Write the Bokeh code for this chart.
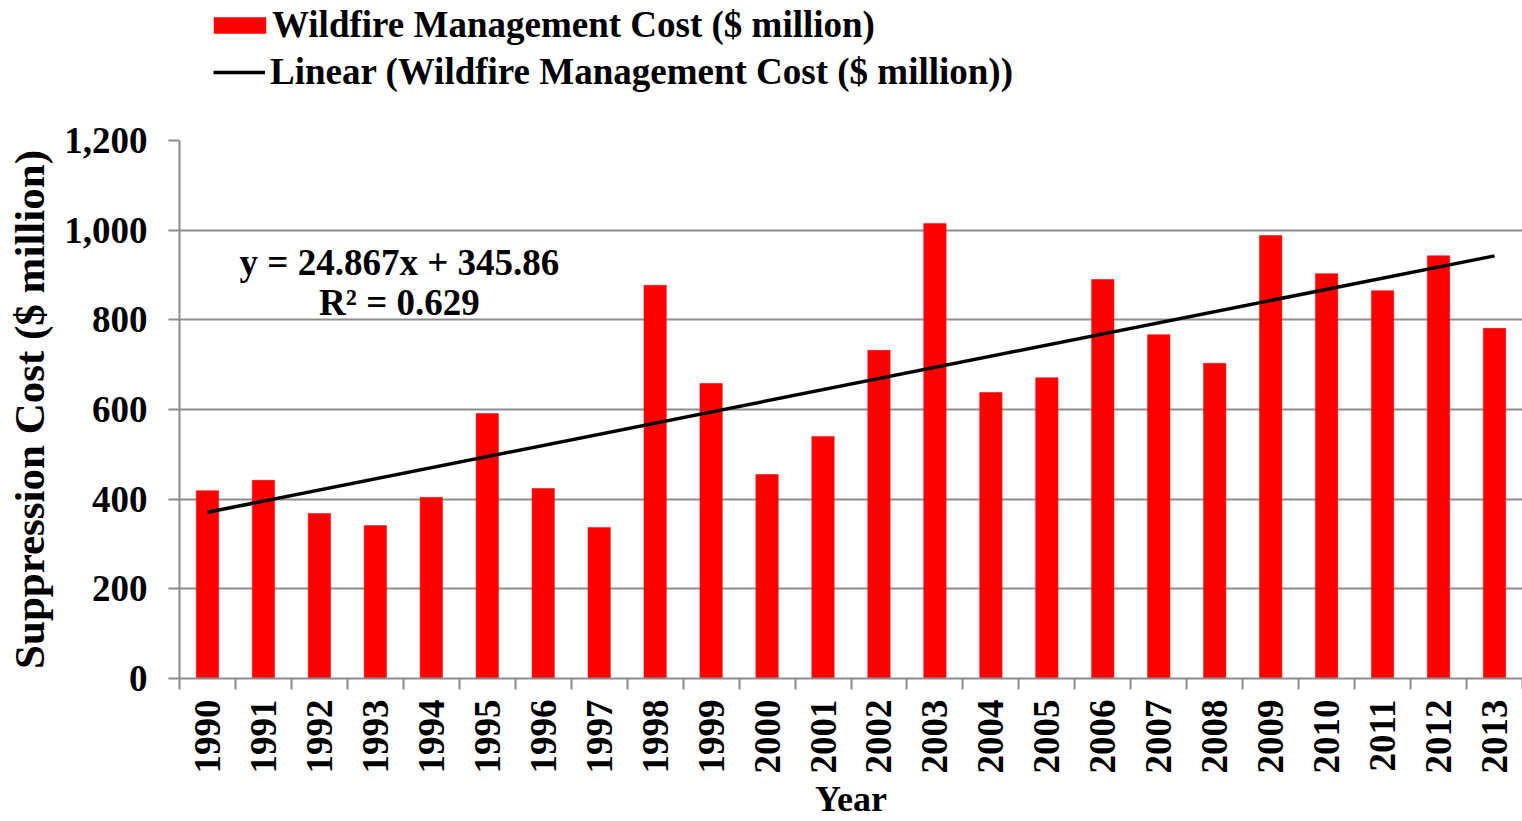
import math
from bokeh.plotting import figure
from bokeh.layouts import column
from bokeh.models import (Range1d, FixedTicker, NumeralTickFormatter, Legend,
                          LegendItem, Label, ColumnDataSource)
from bokeh.embed import file_html
from bokeh.resources import INLINE

# ---- data ----
years = list(range(1990, 2014))
cost = [419, 442, 368, 341, 404, 591, 424, 337, 877, 658, 455, 540,
        732, 1015, 638, 671, 890, 767, 703, 988, 903, 865, 943, 781]
y_ticks = [0, 200, 400, 600, 800, 1000, 1200]
trend_slope = 24.867
trend_intercept = 345.86
r_squared = 0.629
series_label = "Wildfire Management Cost ($ million)"
trend_label = "Linear (Wildfire Management Cost ($ million))"
x_title = "Year"
y_title = "Suppression Cost ($ million)"

FONT = "Liberation Serif"
GRID = "#8c8c8c"
BAR = "#ff0000"

src = ColumnDataSource(dict(year=years, cost=cost))
tx = [years[0], years[-1]]
ty = [trend_intercept + trend_slope * 1, trend_intercept + trend_slope * len(years)]

# ---------------- main chart ----------------
p = figure(width=1522, height=711, output_backend="svg", toolbar_location=None,
           x_range=Range1d(years[0] - 0.5, years[-1] + 0.5),
           y_range=Range1d(y_ticks[0], y_ticks[-1]),
           min_border_left=179, min_border_right=0,
           min_border_top=30, min_border_bottom=143)
p.outline_line_color = None
p.background_fill_color = "white"
p.xgrid.visible = False
p.ygrid.grid_line_color = GRID
p.ygrid.grid_line_width = 2

bars = p.vbar(x="year", top="cost", width=0.4, source=src,
              fill_color=BAR, line_color=BAR, line_width=0.5)
trend = p.line(tx, ty, line_color="black", line_width=3.5)

# x axis
xa = p.xaxis[0]
xa.ticker = FixedTicker(ticks=years, minor_ticks=[y - 0.5 for y in years] + [years[-1] + 0.5])
xa.formatter = NumeralTickFormatter(format="0")
xa.major_tick_out = 0
xa.major_tick_in = 0
xa.minor_tick_out = 11
xa.minor_tick_in = 0
xa.minor_tick_line_color = GRID
xa.minor_tick_line_width = 2
xa.axis_line_color = GRID
xa.axis_line_width = 2
xa.major_label_orientation = math.pi / 2
xa.major_label_standoff = 10
xa.major_label_text_font = FONT
xa.major_label_text_font_style = "bold"
xa.major_label_text_font_size = "37px"
xa.major_label_text_color = "black"
xa.axis_label = x_title
xa.axis_label_text_font = FONT
xa.axis_label_text_font_style = "bold"
xa.axis_label_text_font_size = "36px"
xa.axis_label_text_color = "black"
xa.axis_label_standoff = 2

# y axis
ya = p.yaxis[0]
ya.ticker = FixedTicker(ticks=y_ticks, minor_ticks=[])
ya.formatter = NumeralTickFormatter(format="0,0")
ya.major_tick_out = 11
ya.major_tick_in = 0
ya.major_tick_line_color = GRID
ya.major_tick_line_width = 2
ya.axis_line_color = GRID
ya.axis_line_width = 2
ya.major_label_standoff = 21
ya.major_label_text_font = FONT
ya.major_label_text_font_style = "bold"
ya.major_label_text_font_size = "37px"
ya.major_label_text_color = "black"
ya.axis_label = y_title
ya.axis_label_text_font = FONT
ya.axis_label_text_font_style = "bold"
ya.axis_label_text_font_size = "43px"
ya.axis_label_text_color = "black"
ya.axis_label_standoff = 8

# trendline equation
eq_style = dict(text_font=FONT, text_font_style="bold", text_font_size="37px",
                text_align="center", text_baseline="middle", text_color="black")
p.add_layout(Label(x=1993.43, y=928, text=f"y = {trend_slope}x + {trend_intercept}", **eq_style))
p.add_layout(Label(x=1993.43, y=839, text=f"R² = {r_squared}", **eq_style))

# ---------------- legend strip above the chart ----------------
lg = figure(width=1522, height=110, output_backend="svg", toolbar_location=None,
            x_axis_type=None, y_axis_type=None, min_border=0,
            x_range=Range1d(0, 1), y_range=Range1d(0, 1))
lg.outline_line_color = None
lg.xgrid.visible = False
lg.ygrid.visible = False
# same series, drawn outside this strip's visible range: used only for legend swatches
lg_bar = lg.vbar(x="year", top="cost", width=0.4, source=src,
                 fill_color=BAR, line_color=BAR, line_width=0.5)
lg_line = lg.line(tx, ty, line_color="black", line_width=3.5)

leg_style = dict(border_line_color=None, background_fill_alpha=0, padding=0, margin=0,
                 glyph_height=20, label_text_font=FONT, label_text_font_style="bold",
                 label_text_font_size="37px", label_text_color="black")
legend1 = Legend(items=[LegendItem(label=series_label, renderers=[lg_bar])],
                 location=(28, 64), glyph_width=65, label_standoff=0, **leg_style)
legend2 = Legend(items=[LegendItem(label=trend_label, renderers=[lg_line])],
                 location=(34, 17), glyph_width=52, label_standoff=5, **leg_style)
lg.add_layout(legend1)
lg.add_layout(legend2)

layout = column(lg, p, spacing=0)
open("out.html", "w").write(file_html(layout, INLINE))
